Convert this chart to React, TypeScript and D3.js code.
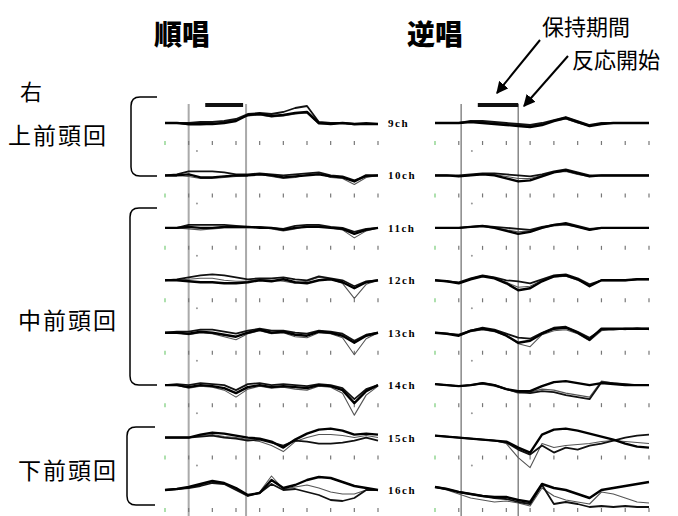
import React from 'react';
import * as d3 from 'd3';

// channel rows, top to bottom
const channels = ['9ch', '10ch', '11ch', '12ch', '13ch', '14ch', '15ch', '16ch'];
const tickIdx = [0, 2, 4, 6, 8, 10, 12, 14, 16, 18];

// 順唱 traces (three per channel: thick, second, thin gray), offset upward
const fwd9 = [
  [0, 0, -1, -1, -1, 0, 2, 8, 9, 7, 8, 10, 11, 0, -1, 0, -1, -1, -1],
  [0, 0, 0, 1, 1, 2, 4, 9, 10, 9, 11, 15, 17, 1, 0, 0, -1, 0, -1],
  [0, 0, -2, -2, -1, 1, 3, 7, 8, 6, 7, 9, 10, -1, -1, 0, -2, -1, -1],
];
const fwd10 = [
  [0, 0, 1, -2, -2, -1, 0, 0, 1, 0, -2, -1, 0, 1, -1, -2, -6, 0, 0],
  [0, 1, 4, 4, 4, 3, 1, 1, 2, 1, 0, 1, 2, 3, 0, -1, -5, -1, 0],
  [0, 0, -1, -3, -3, -2, -1, 0, 1, -1, -3, -2, 1, 2, -2, -3, -9, -2, 0],
];
const fwd11 = [
  [0, 0, 1, 0, 0, 1, 1, 1, 0, 0, -2, 0, 1, 1, 0, -1, -6, -2, 0],
  [0, 0, 3, 3, 3, 3, 2, 1, 1, 0, -1, 2, 3, 3, 1, 0, -4, -1, 0],
  [0, 0, -1, -2, -1, 0, 0, 0, 1, -1, -3, -1, 2, 2, 0, -2, -10, -3, 0],
];
const fwd12 = [
  [0, 0, -1, -2, -2, -3, -3, -2, 0, -1, 1, -2, -3, 0, 1, -2, -8, -2, 0],
  [0, 1, 3, 5, 6, 5, 3, 1, 2, 2, 3, 1, 0, 4, 2, 0, -6, -1, 0],
  [0, 0, 1, 2, 2, 0, -1, -1, 1, 0, -1, -3, -1, 3, 1, -3, -18, -4, 0],
];
const fwd13 = [
  [0, 0, -1, 1, 0, -2, -4, 0, 3, 0, 1, -2, -3, 1, 0, -3, -10, -3, 0],
  [0, 1, 1, 3, 3, 1, -1, 2, 4, 2, 2, 0, -1, 2, 1, -1, -8, -2, 0],
  [0, 0, -2, 0, -1, -4, -7, -1, 2, -1, 0, -4, -5, 0, -1, -5, -22, -6, 0],
];
const fwd14 = [
  [0, 0, -2, 0, -1, -3, -8, -2, 0, -2, -1, -2, -3, 0, -1, -5, -18, -6, 0],
  [0, 1, 0, 2, 1, 0, -5, 1, 2, 0, 1, 0, -1, 1, 0, -3, -14, -4, 0],
  [0, 0, -3, -1, -2, -5, -12, -4, -1, -3, -2, -4, -5, -1, -2, -8, -30, -10, -1],
];
const fwd15 = [
  [0, 0, 0, 3, 5, 4, 2, 0, -1, -4, -10, -2, 4, 8, 9, 7, 3, 4, 3],
  [0, 0, 0, 1, 2, 0, -1, -3, -2, -5, -8, -3, -4, -6, -6, -5, -3, 0, -3],
  [0, 0, 0, 2, 3, 1, 0, -2, -4, -8, -14, -4, 0, 3, 3, 2, 0, 2, 0],
];
const fwd16 = [
  [0, 1, 3, 6, 9, 7, 2, -5, -3, 10, 2, 5, 10, 13, 12, 8, 4, 2, 0],
  [0, 1, 2, 4, 7, 6, 0, -6, -3, 6, 0, 1, -2, -5, -10, -11, -8, 0, 0],
  [0, 1, 2, 5, 8, 6, 1, -6, -2, 14, 1, 3, 5, 2, -2, -4, -4, 0, 0],
];

// 逆唱 traces
const bwd9 = [
  [0, 0, 0, 1, 0, -1, -2, -3, -4, -2, 2, 5, 1, -3, -1, 0, 0, 0, 0],
  [0, 0, 0, 2, 2, 1, 0, -1, -2, 0, 3, 6, 2, -2, 0, 0, 0, 0, 0],
  [0, 0, 0, 1, 1, 0, -1, -2, -3, -1, 2, 4, 0, -3, -1, 0, 0, 0, 0],
];
const bwd10 = [
  [0, 0, -1, 0, 1, 0, -3, -6, -5, -1, 3, 5, 2, -1, 0, 0, 0, 0, 0],
  [0, 0, 0, 1, 2, 2, 1, 0, -1, 1, 4, 6, 3, 0, 0, 0, 0, 0, 0],
  [0, 0, -1, 0, 1, 1, -1, -3, -3, 0, 3, 4, 1, -1, 0, 0, 0, 0, 0],
];
const bwd11 = [
  [0, 0, 0, 1, 2, 0, -3, -6, -4, 0, 3, 4, 1, -2, 0, 0, 0, 0, 0],
  [0, 0, 0, 1, 2, 1, 0, -1, -2, 1, 3, 5, 2, -1, 0, 0, 0, 0, 0],
  [0, 0, 0, 1, 1, 0, -2, -4, -3, 0, 2, 3, 1, -2, 0, 0, 0, 0, 0],
];
const bwd12 = [
  [0, -1, -3, 1, 4, 2, -3, -10, -8, -1, 4, 5, 1, -6, 0, 0, 0, 1, 1],
  [0, -1, -2, 2, 5, 3, 0, -1, -3, 1, 5, 6, 2, -4, 0, 0, 0, 1, 1],
  [0, -1, -3, 1, 4, 2, -2, -7, -6, 0, 3, 4, 0, -5, 0, 0, 0, 1, 1],
];
const bwd13 = [
  [0, -1, -3, 2, 4, 2, -3, -10, -8, -1, 4, 5, 0, -7, 4, 4, 4, 4, 4],
  [0, -1, -2, 2, 5, 3, -1, -5, -6, 0, 5, 6, 1, -5, 3, 3, 4, 4, 4],
  [0, -1, -3, 1, 3, 1, -3, -11, -14, -2, 2, 3, -1, -8, 2, 4, 3, 5, 3],
];
const bwd14 = [
  [1, 0, -1, 0, 2, 0, -4, -6, -6, -1, 3, 4, 2, 0, 2, 1, 0, 0, 0],
  [1, 0, -1, 0, 2, 0, -4, -7, -8, -6, -7, -10, -12, -14, 3, 2, 1, 0, 0],
  [1, 0, -1, 0, 1, -1, -4, -8, -7, -4, -5, -8, -10, -12, 4, 2, 1, 0, 0],
];
const bwd15 = [
  [2, 1, 0, -1, -2, -3, -4, -10, -15, 3, 8, 9, 7, 4, 1, -2, -6, -9, -10],
  [2, 1, 0, -1, -2, -3, -5, -12, -17, -8, -15, -10, -12, -8, -6, -3, 0, 2, 3],
  [2, 1, 0, -1, -2, -3, -6, -20, -30, -6, -10, -8, -7, -6, -4, -3, -4, -5, -6],
];
const bwd16 = [
  [3, 1, -2, -4, -6, -7, -7, -10, -12, 6, 2, 0, -4, -8, 0, 2, 4, 6, 8],
  [3, 1, -2, -4, -6, -8, -9, -12, -14, 5, -14, -12, -14, -17, -16, -17, -16, -17, -17],
  [3, 0, -4, -8, -10, -12, -11, -13, -16, 2, -6, -10, -12, -14, -2, -4, -8, -12, -13],
];

const forward = [fwd9, fwd10, fwd11, fwd12, fwd13, fwd14, fwd15, fwd16];
const backward = [bwd9, bwd10, bwd11, bwd12, bwd13, bwd14, bwd15, bwd16];

// time marks (sample index units): task onset / response onset, hold period bar
const fwdMarks = [2, 6.85];
const bwdMarks = [2.2, 7];
const fwdHold = [3.4, 6.6];
const bwdHold = [3.6, 7];

const traceStyle = [
  { stroke: '#000', width: 2.4 },
  { stroke: '#111', width: 1.8 },
  { stroke: '#555', width: 1.1 },
];

const y = d3.scalePoint<string>().domain(channels).range([123, 490]);
const amp = d3.scaleLinear().domain([-40, 40]).range([40, -40]);

function Panel({ x0, x1, data, marks, hold, dotAt, markColor, markWidth }: any) {
  const x = d3.scaleLinear().domain([0, 18]).range([x0, x1]);
  return (
    <g>
      {marks.map((m: number, i: number) => (
        <line key={'m' + i} x1={x(m)} x2={x(m)} y1={104} y2={516} stroke={markColor} strokeWidth={markWidth} />
      ))}
      <line x1={x(hold[0])} x2={x(hold[1])} y1={105} y2={105} stroke="#111" strokeWidth={4} />
      {channels.map((c, ci) => {
        const base = y(c)!;
        const ln = d3
          .line<number>()
          .x((_, i) => x(i))
          .y((v) => base + amp(v))
          .curve(d3.curveLinear);
        const rows = data[ci];
        return (
          <g key={c}>
            {tickIdx.map((t, ti) => (
              <line
                key={t}
                x1={x(t)}
                x2={x(t)}
                y1={base + 18}
                y2={base + 22}
                stroke={ti === 0 ? '#7c7' : '#777'}
                strokeWidth={1.2}
              />
            ))}
            <circle cx={x(dotAt)} cy={base + 28} r={1} fill="#999" />
            {[2, 1, 0].map((k) => (
              <path
                key={k}
                d={ln(rows[k]) || ''}
                fill="none"
                stroke={traceStyle[k].stroke}
                strokeWidth={traceStyle[k].width}
                strokeLinejoin="round"
              />
            ))}
          </g>
        );
      })}
    </g>
  );
}

function Brace({ x, top, bottom, tip }: { x: number; top: number; bottom: number; tip: number }) {
  const d = `M${tip},${top} L${x + 9},${top} Q${x},${top} ${x},${top + 9} L${x},${bottom - 9} Q${x},${bottom} ${x + 9},${bottom} L${tip},${bottom}`;
  return <path d={d} fill="none" stroke="#000" strokeWidth={1.5} />;
}

const cjk = "'Noto Sans CJK JP', 'Noto Sans', sans-serif";

export default function App() {
  return (
    <div style={{ position: 'fixed', left: 0, top: 0 }}>
      <svg width={678} height={516} style={{ display: 'block', background: '#fff' }}>
        <defs>
          <marker id="ah" viewBox="0 0 10 10" refX="9" refY="5" markerWidth="6" markerHeight="6" orient="auto">
            <path d="M0,0 L10,5 L0,10 z" fill="#000" />
          </marker>
        </defs>
        <text x={182} y={45} textAnchor="middle" fontFamily={cjk} fontWeight={900} fontSize={28}>順唱</text>
        <text x={435} y={45} textAnchor="middle" fontFamily={cjk} fontWeight={900} fontSize={28}>逆唱</text>
        <text x={542} y={35} fontFamily={cjk} fontSize={22}>保持期間</text>
        <text x={572} y={68} fontFamily={cjk} fontSize={22}>反応開始</text>
        <line x1={540} y1={40} x2={497} y2={93} stroke="#000" strokeWidth={2} markerEnd="url(#ah)" />
        <line x1={568} y1={56} x2={524} y2={106} stroke="#000" strokeWidth={2} markerEnd="url(#ah)" />

        <text x={20} y={100} fontFamily={cjk} fontSize={22}>右</text>
        <text x={8} y={144} fontFamily={cjk} fontSize={23} letterSpacing={2}>上前頭回</text>
        <text x={18} y={329} fontFamily={cjk} fontSize={23} letterSpacing={2}>中前頭回</text>
        <text x={18} y={479} fontFamily={cjk} fontSize={23} letterSpacing={2}>下前頭回</text>
        <Brace x={131} top={97} bottom={176} tip={157} />
        <Brace x={130} top={208} bottom={385} tip={157} />
        <Brace x={127} top={427} bottom={505} tip={155} />

        <Panel x0={165} x1={378} data={forward} marks={fwdMarks} hold={fwdHold} dotAt={2.7} markColor="#aaa" markWidth={2} />
        <Panel x0={435} x1={649} data={backward} marks={bwdMarks} hold={bwdHold} dotAt={3.1} markColor="#888" markWidth={1.5} />

        {channels.map((c) => (
          <text
            key={c}
            x={388}
            y={y(c)! + 4}
            fontFamily="'Liberation Serif', serif"
            fontWeight="bold"
            fontSize={11}
            letterSpacing={1.5}
          >
            {c}
          </text>
        ))}
      </svg>
    </div>
  );
}
